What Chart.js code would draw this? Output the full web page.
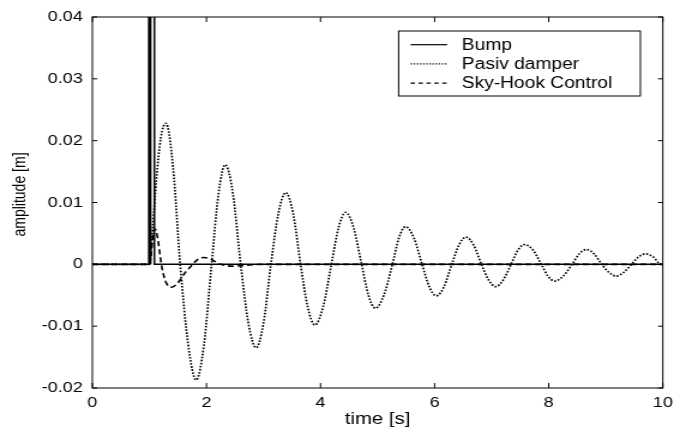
<!DOCTYPE html>
<html><head><meta charset="utf-8">
<script src="https://cdn.jsdelivr.net/npm/chart.js@4.4.1/dist/chart.umd.min.js"></script>
<style>
html,body{margin:0;padding:0;background:#fff;overflow:hidden}
</style>
</head><body>
<canvas id="c" width="567" height="430" style="display:block;width:680px;height:430px"></canvas>
<script>
// ---- data ----
const seriesNames = ['Bump', 'Pasiv damper', 'Sky-Hook Control'];
const xTickLabels = ['0', '2', '4', '6', '8', '10'];
const yTickLabels = ['-0.02', '-0.01', '0', '0.01', '0.02', '0.03', '0.04'];
const xAxisTitle = 'time [s]';
const yAxisTitle = 'amplitude [m]';

const bumpTime  = [0, 0.99, 0.99, 1.022, 1.022, 1.022, 1.088, 1.088, 10];
const bumpValue = [0, 0,    0.08, 0.08,  0,     0.08,  0.08,  0,     0];

const passiveTime = [0, 1.0, 1.06, 1.12, 1.2, 1.29, 1.415, 1.54, 1.68, 1.82, 1.955, 2.09, 2.21, 2.33, 2.465, 2.60,
  2.735, 2.87, 3.0, 3.13, 3.26, 3.39, 3.52, 3.65, 3.775, 3.90, 4.045, 4.19, 4.315, 4.44, 4.58, 4.72,
  4.84, 4.96, 5.11, 5.26, 5.375, 5.49, 5.635, 5.78, 5.905, 6.03, 6.165, 6.30, 6.425, 6.55, 6.685, 6.82,
  6.945, 7.07, 7.205, 7.34, 7.46, 7.58, 7.725, 7.87, 7.985, 8.10, 8.255, 8.41, 8.535, 8.66, 8.795, 8.93,
  9.055, 9.18, 9.315, 9.45, 9.575, 9.70, 9.83, 9.97, 10.0];
const passiveValue = [0, 0, 0.006, 0.0135, 0.0205, 0.0228, 0.0157, 0, -0.013, -0.0187, -0.0131, 0, 0.0113, 0.0161, 0.0114, 0,
  -0.0095, -0.0135, -0.0095, 0, 0.0082, 0.0116, 0.0082, 0, -0.0069, -0.0098, -0.0069, 0, 0.0059, 0.0084, 0.0059, 0,
  -0.005, -0.0071, -0.005, 0, 0.0043, 0.0061, 0.0043, 0, -0.0036, -0.0051, -0.0036, 0, 0.0031, 0.0044, 0.0031, 0,
  -0.0025, -0.0036, -0.0025, 0, 0.0023, 0.0032, 0.0023, 0, -0.0019, -0.0027, -0.0019, 0, 0.0017, 0.0024, 0.0017, 0,
  -0.0013, -0.0019, -0.0013, 0, 0.0012, 0.0017, 0.0012, 0, 0];

const skyTime  = [0, 1.0, 1.03, 1.06, 1.1, 1.14, 1.21, 1.28, 1.39, 1.5, 1.63, 1.76, 1.85, 1.96, 2.1, 2.25, 2.48, 2.75, 3.0, 10];
const skyValue = [0, 0, 0.0015, 0.0045, 0.0057, 0.0045, 0, -0.0027, -0.0037, -0.003, -0.0013, 0, 0.0008, 0.0011, 0.0007, 0, -0.0003, -0.0001, 0, 0];

// ---- chart ----
const FONT = '"Liberation Sans", Arial, Helvetica, sans-serif';
const pts = (xs, ys) => xs.map((x, i) => ({x: x, y: ys[i]}));

const framePlugin = {
  id: 'frame',
  afterDatasetsDraw(chart) {
    const {ctx, chartArea, scales} = chart;
    const {left, right, top, bottom} = chartArea;
    const xs = scales.x, ys = scales.y;
    ctx.save();
    ctx.strokeStyle = '#000';
    ctx.lineWidth = 1;
    ctx.setLineDash([]);
    ctx.strokeRect(left, top, right - left, bottom - top);
    ctx.beginPath();
    xs.ticks.forEach(t => {
      const px = xs.getPixelForValue(t.value);
      ctx.moveTo(px, bottom); ctx.lineTo(px, bottom - 5);
      ctx.moveTo(px, top); ctx.lineTo(px, top + 5);
    });
    ys.ticks.forEach(t => {
      const py = ys.getPixelForValue(t.value);
      ctx.moveTo(left, py); ctx.lineTo(left + 4, py);
      ctx.moveTo(right, py); ctx.lineTo(right - 4, py);
    });
    ctx.stroke();

    // y axis title
    ctx.save();
    ctx.translate(16.7, (top + bottom) / 2 - 8);
    ctx.rotate(-Math.PI / 2);
    ctx.font = '14px ' + FONT;
    ctx.fillStyle = '#000';
    ctx.textAlign = 'center';
    ctx.textBaseline = 'middle';
    ctx.fillText(yAxisTitle, 0, 0);
    ctx.restore();

    // legend box
    const bx = right - 18.7 - 201.6, by = top + 14, bw = 201.6, bh = 65;
    ctx.fillStyle = '#fff';
    ctx.fillRect(bx, by, bw, bh);
    ctx.strokeRect(bx, by, bw, bh);
    ctx.font = '16px ' + FONT;
    ctx.fillStyle = '#000';
    ctx.textAlign = 'left';
    ctx.textBaseline = 'alphabetic';
    chart.data.datasets.forEach((ds, i) => {
      const ly = by + 13.7 + i * 19.2;
      ctx.save();
      ctx.lineWidth = ds.legendLineWidth;
      ctx.setLineDash(ds.legendDash);
      ctx.beginPath();
      ctx.moveTo(bx + 10, ly);
      ctx.lineTo(bx + 40.5, ly);
      ctx.stroke();
      ctx.restore();
      ctx.fillText(ds.label, bx + 52.7, ly + 5.2);
    });
    ctx.restore();
  }
};

new Chart(document.getElementById('c'), {
  type: 'line',
  data: {
    datasets: [
      {label: seriesNames[0], data: pts(bumpTime, bumpValue), borderColor: '#000', borderWidth: 1.5,
       pointRadius: 0, tension: 0, legendDash: [], legendLineWidth: 1.2},
      {label: seriesNames[1], data: pts(passiveTime, passiveValue), borderColor: '#000', borderWidth: 1.7,
       borderDash: [1.6, 1.5], pointRadius: 0, cubicInterpolationMode: 'monotone', legendDash: [1.2, 1.4], legendLineWidth: 1.2},
      {label: seriesNames[2], data: pts(skyTime, skyValue), borderColor: '#000', borderWidth: 1.6,
       borderDash: [5, 3], pointRadius: 0, cubicInterpolationMode: 'monotone', legendDash: [3.6, 3], legendLineWidth: 1.2}
    ]
  },
  options: {
    responsive: false,
    devicePixelRatio: 1,
    animation: false,
    layout: {padding: {left: 0, top: 14, right: 10, bottom: 0}},
    plugins: {legend: {display: false}, tooltip: {enabled: false}},
    scales: {
      x: {
        type: 'linear', min: 0, max: 10,
        grid: {display: false, drawTicks: false},
        border: {display: false},
        ticks: {stepSize: 2, padding: 6, color: '#000', font: {family: FONT, size: 15},
                maxRotation: 0, autoSkip: false,
                callback: (v) => xTickLabels[Math.round(v / 2)]},
        title: {display: true, text: xAxisTitle, color: '#000', font: {family: FONT, size: 17}, padding: {top: 0, bottom: 0}},
        afterFit: (s) => { s.height = 42; }
      },
      y: {
        type: 'linear', min: -0.02, max: 0.04,
        grid: {display: false, drawTicks: false},
        border: {display: false},
        ticks: {stepSize: 0.01, padding: 8, color: '#000', font: {family: FONT, size: 15}, autoSkip: false,
                callback: (v) => yTickLabels[Math.round((v + 0.02) * 100)]},
        title: {display: false, text: yAxisTitle},
        afterFit: (s) => { s.width = 77; }
      }
    }
  },
  plugins: [framePlugin]
});
</script>
</body></html>
